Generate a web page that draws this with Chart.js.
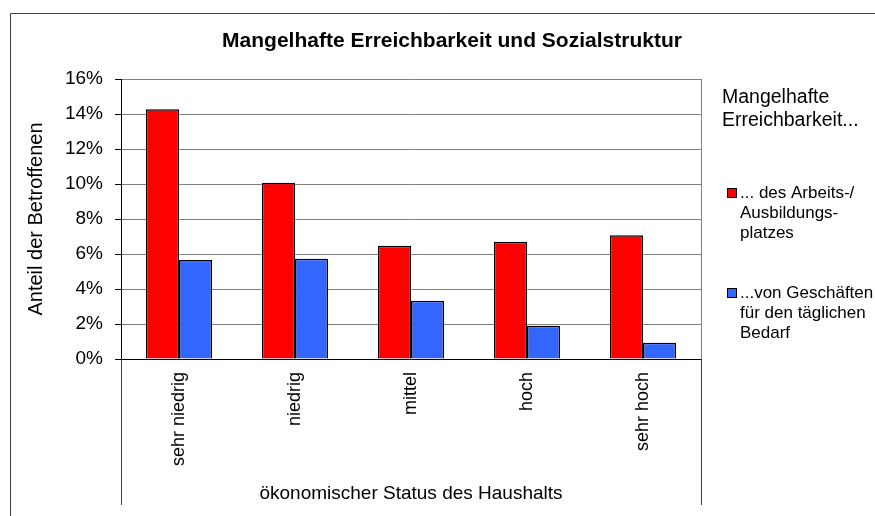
<!DOCTYPE html>
<html>
<head>
<meta charset="utf-8">
<script src="https://cdn.jsdelivr.net/npm/chart.js@4/dist/chart.umd.min.js"></script>
<style>
  html, body { margin: 0; padding: 0; background: #fff; }
  #wrap { width: 875px; height: 516px; position: relative; }
</style>
</head>
<body>
<div id="wrap"><canvas id="myChart"></canvas></div>
<script>
const categories = ['sehr niedrig', 'niedrig', 'mittel', 'hoch', 'sehr hoch'];
const arbeitsplatz = [14.27, 10.07, 6.47, 6.70, 7.07];
const geschaefte = [5.66, 5.73, 3.33, 1.90, 0.93];
const yTicks = [0, 2, 4, 6, 8, 10, 12, 14, 16];

const chartTitle = 'Mangelhafte Erreichbarkeit und Sozialstruktur';
const legendTitle = ['Mangelhafte', 'Erreichbarkeit...'];
const legendLines = [
  ['... des Arbeits-/', 'Ausbildungs-', 'platzes'],
  ['...von Geschäften', 'für den täglichen', 'Bedarf']
];

const FONT = '"Liberation Sans", Arial, sans-serif';

// frame, title, extended category box lines and the legend
const decor = {
  id: 'decor',
  afterDraw(chart) {
    const ctx = chart.ctx;
    const area = chart.chartArea;
    ctx.save();

    ctx.strokeStyle = '#404040';
    ctx.lineWidth = 1;
    ctx.beginPath();
    ctx.moveTo(10.5, 516);
    ctx.lineTo(10.5, 13.5);
    ctx.lineTo(875, 13.5);
    ctx.stroke();

    // right border of plot
    ctx.strokeStyle = '#808080';
    ctx.beginPath();
    ctx.moveTo(area.right + 0.5, area.top);
    ctx.lineTo(area.right + 0.5, area.bottom);
    ctx.stroke();

    // category area side lines
    ctx.strokeStyle = '#404040';
    ctx.beginPath();
    ctx.moveTo(area.left + 0.5, area.bottom);
    ctx.lineTo(area.left + 0.5, 505);
    ctx.moveTo(area.right + 0.5, area.bottom);
    ctx.lineTo(area.right + 0.5, 505);
    ctx.stroke();

    ctx.fillStyle = '#000';
    ctx.textBaseline = 'middle';
    ctx.textAlign = 'center';
    ctx.font = 'bold 21px ' + FONT;
    ctx.fillText(chartTitle, 452, 41);

    ctx.textAlign = 'left';
    ctx.font = '19.5px ' + FONT;
    ctx.fillText(legendTitle[0], 722, 98);
    ctx.fillText(legendTitle[1], 722, 121);

    ctx.font = '17px ' + FONT;
    const starts = [193, 293];
    chart.data.datasets.forEach((ds, i) => {
      const y0 = starts[i];
      ctx.fillStyle = ds.backgroundColor;
      ctx.fillRect(727, y0 - 5, 10, 10);
      ctx.strokeStyle = '#000';
      ctx.strokeRect(727.5, y0 - 4.5, 9, 9);
      ctx.fillStyle = '#000';
      legendLines[i].forEach((t, j) => ctx.fillText(t, 740, y0 + j * 20));
    });
    ctx.restore();
  }
};

const data = {
  labels: categories,
  datasets: [{
    label: legendLines[0].join(' '),
    data: arbeitsplatz,
    backgroundColor: '#FF0000',
    borderColor: '#000',
    borderWidth: 1.5
  }, {
    label: legendLines[1].join(' '),
    data: geschaefte,
    backgroundColor: '#3366FF',
    borderColor: '#000',
    borderWidth: 1.5
  }]
};

const config = {
  type: 'bar',
  data: data,
  options: {
    responsive: true,
    maintainAspectRatio: false,
    animation: false,
    layout: { padding: { left: 24, right: 174, top: 79, bottom: 11 } },
    datasets: { bar: { categoryPercentage: 0.57, barPercentage: 1 } },
    plugins: {
      legend: { display: false },
      title: { display: false },
      tooltip: { enabled: false }
    },
    scales: {
      x: {
        grid: { display: false, drawTicks: false },
        border: { display: true, color: '#000', width: 1 },
        ticks: {
          color: '#000',
          font: { family: FONT, size: 18 },
          minRotation: 90,
          maxRotation: 90,
          padding: 13
        },
        title: {
          display: true,
          text: 'ökonomischer Status des Haushalts',
          color: '#000',
          font: { family: FONT, size: 19 },
          padding: { top: 0, bottom: 0 }
        },
        afterFit(scale) { scale.height = 146; }
      },
      y: {
        min: 0,
        max: 16,
        afterBuildTicks(scale) { scale.ticks = yTicks.map(v => ({ value: v })); },
        grid: { color: '#808080', tickColor: '#000', tickLength: 6 },
        border: { display: true, color: '#000', width: 1 },
        ticks: {
          color: '#000',
          font: { family: FONT, size: 19 },
          padding: 12,
          callback: v => v + '%'
        },
        title: {
          display: true,
          text: 'Anteil der Betroffenen',
          color: '#000',
          font: { family: FONT, size: 20 },
          padding: { top: 0, bottom: 0 }
        },
        afterFit(scale) { scale.width = 97; }
      }
    }
  },
  plugins: [decor]
};

const myChart = new Chart(document.getElementById('myChart'), config);
</script>
</body>
</html>
